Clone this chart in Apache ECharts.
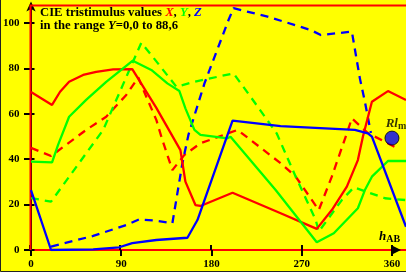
<!DOCTYPE html>
<html><head><meta charset="utf-8">
<script src="https://cdn.jsdelivr.net/npm/echarts@6/dist/echarts.min.js"></script>
<style>html,body{margin:0;padding:0;background:#ffff00}#c{width:406px;height:272px}</style>
</head><body><div id="c"></div>
<script>
// tick labels
const hueTicks = [0, 90, 180, 270, 360];
const valTicks = [0, 20, 40, 60, 80, 100];

// X (red) solid
const xSolidHue = [0, 21, 29, 38, 52, 65, 82, 101, 125, 149, 154, 164, 169, 201, 249, 285, 300, 315, 326, 331, 340, 356, 374];
const xSolidVal = [69.6, 63.9, 69.7, 74.1, 77.1, 78.5, 79.6, 79.7, 62.6, 44, 30.1, 19.8, 19.4, 25.2, 16.2, 9.3, 17.6, 27.9, 39.6, 49.9, 65.3, 70, 66.1];
// X (red) dashed
const xDashHue = [0, 20, 55, 75, 95, 107, 115, 125, 130, 141, 153, 169, 206, 249, 264, 287, 300, 315, 320, 336, 363];
const xDashVal = [45, 41.4, 52.9, 58.7, 68.3, 76, 67.5, 57.3, 49.9, 35.2, 41.9, 47, 52.9, 38.2, 32.3, 17.6, 32.3, 51.4, 58, 51.5, 45.4];

// Y (green) solid
const ySolidHue = [0, 21, 27, 38, 55, 75, 101.5, 120, 136, 148, 154, 163, 169, 196, 199, 244, 285, 302, 326, 333, 340, 356, 374];
const ySolidVal = [38.9, 38.6, 46.3, 58.7, 66.1, 74.1, 83.4, 79.3, 73.4, 70, 62.4, 52.9, 50.7, 49.2, 49.9, 26.4, 3.4, 7.4, 18.4, 26.4, 32.3, 39.2, 39.2];
// Y (green) dashed
const yDashHue = [0, 20, 72, 110, 120, 145, 163, 202, 219, 245, 264, 284, 287, 310, 322, 353, 374];
const yDashVal = [22.9, 21.3, 52.9, 91.3, 85.9, 71.9, 74.1, 77.8, 67.5, 51.4, 32.3, 13.2, 8.1, 22, 27.6, 22.8, 22];

// Z (blue) solid
const zSolidHue = [0, 20, 62, 88, 101, 125, 156, 166, 201, 249, 323, 336, 340, 374];
const zSolidVal = [26.4, 0, 0.3, 1.2, 3, 4.4, 5.4, 13.2, 57, 54.6, 52.9, 51.4, 49.9, 10.2];
// Z (blue) dashed
const zDashHue = [20, 62, 95, 108, 125, 141, 151, 157, 173, 197, 202, 236, 279, 289, 320, 328, 333, 339];
const zDashVal = [1.5, 6.2, 11, 13.5, 12.9, 11.8, 38.2, 50.7, 73.4, 101.3, 106.5, 102.8, 96.9, 94.7, 96.2, 75.6, 65.3, 51.5];

// marked point
const markHue = [360];
const markVal = [49.3];

const zip = (a, b) => a.map((v, i) => [v, b[i]]);
const FONT = '"Liberation Serif", "DejaVu Serif", serif';
const RED = '#ff0000', GREEN = '#00ff00', BLUE = '#0000ff';
const DASH = [8, 6];

function line(name, hue, val, color, dashed) {
  return {
    name, type: 'line', xAxisIndex: 0, yAxisIndex: 0,
    data: zip(hue, val), symbol: 'none', silent: true, animation: false,
    lineStyle: { color, width: 2.3, type: dashed ? DASH : 'solid' }
  };
}

const chart = echarts.init(document.getElementById('c'), null, { renderer: 'canvas' });
const gridPos = { left: 29.5, top: 5.5, right: 0, bottom: 22, containLabel: false };
const TS = 12.7;
chart.setOption({
  backgroundColor: '#ffff00',
  animation: false,
  grid: [Object.assign({}, gridPos), Object.assign({}, gridPos)],
  xAxis: [{
    type: 'value', gridIndex: 0, min: 0, max: 374, position: 'bottom',
    axisLine: { show: true, lineStyle: { color: RED, width: 2 } },
    axisTick: { show: true, customValues: hueTicks, length: 6, lineStyle: { color: '#000', width: 2 } },
    axisLabel: { customValues: hueTicks, color: '#000', fontFamily: FONT, fontWeight: 'bold', fontSize: 11, margin: 9 },
    splitLine: { show: false }
  }, {
    type: 'value', gridIndex: 1, min: 0, max: 374, position: 'bottom',
    axisLine: { show: false },
    axisTick: { show: true, inside: true, customValues: hueTicks, length: 5, lineStyle: { color: '#000', width: 2 } },
    axisLabel: { show: false }, splitLine: { show: false }
  }],
  yAxis: [{
    type: 'value', gridIndex: 0, min: 0, max: 107.7, position: 'left', offset: 1.5,
    axisLine: { show: true, symbol: ['none', 'arrow'], symbolSize: [7, 10], symbolOffset: [0, 4], lineStyle: { color: '#000', width: 2 } },
    axisTick: { show: true, customValues: valTicks, length: 7, lineStyle: { color: '#000', width: 2 } },
    axisLabel: { customValues: valTicks, color: '#000', fontFamily: FONT, fontWeight: 'bold', fontSize: 11, margin: 10 },
    splitLine: { show: false }
  }, {
    type: 'value', gridIndex: 1, min: 0, max: 107.7, position: 'left', offset: 1.5,
    axisLine: { show: false },
    axisTick: { show: true, inside: true, customValues: valTicks, length: 5, lineStyle: { color: '#000', width: 2 } },
    axisLabel: { show: false }, splitLine: { show: false }
  }],
  series: [
    line('X dashed', xDashHue, xDashVal, RED, true),
    line('Y dashed', yDashHue, yDashVal, GREEN, true),
    line('Z dashed', zDashHue, zDashVal, BLUE, true),
    line('X', xSolidHue, xSolidVal, RED, false),
    line('Y', ySolidHue, ySolidVal, GREEN, false),
    line('Z', zSolidHue, zSolidVal, BLUE, false),
    {
      type: 'scatter', xAxisIndex: 0, yAxisIndex: 0, data: zip(markHue, markVal),
      symbolSize: 14, silent: true, z: 5,
      itemStyle: { color: BLUE, borderColor: '#000', borderWidth: 1 },
      label: {
        show: true, position: 'top', offset: [4, 6], formatter: '{a|Rl}{b|m}',
        rich: {
          a: { fontFamily: FONT, fontWeight: 'bold', fontStyle: 'italic', fontSize: 13, color: '#000' },
          b: { fontFamily: FONT, fontWeight: 'bold', fontSize: 10, color: '#000', verticalAlign: 'bottom', padding: [6, 0, 0, 0] }
        }
      }
    }
  ],
  graphic: [
    { type: 'polyline', z: 1, silent: true, shape: { points: [[30.5, 250], [30.5, 5.5], [406, 5.5]] }, style: { stroke: RED, lineWidth: 2, fill: null } },
    { type: 'polygon', z: 10, silent: true, shape: { points: [[392, 245.5], [401, 250], [392, 254.5]] }, style: { fill: '#000' } },
    { type: 'polyline', z: 10, silent: true, shape: { points: [[0.5, 0], [0.5, 271.5], [406, 271.5]] }, style: { stroke: '#222', lineWidth: 1, fill: null } },
    {
      type: 'text', z: 10, silent: true, left: 40, top: 6,
      style: {
        text: '{t|CIE tristimulus values }{x|X}{t|, }{y|Y}{t|, }{z|Z}\n{t|in the range }{i|Y}{t|=0,0 to 88,6}',
        lineHeight: 13,
        rich: {
          t: { fontFamily: FONT, fontWeight: 'bold', fontSize: TS, fill: '#000', lineHeight: 13 },
          i: { fontFamily: FONT, fontWeight: 'bold', fontStyle: 'italic', fontSize: TS, fill: '#000', lineHeight: 13 },
          x: { fontFamily: FONT, fontWeight: 'bold', fontStyle: 'italic', fontSize: TS, fill: RED, lineHeight: 13 },
          y: { fontFamily: FONT, fontWeight: 'bold', fontStyle: 'italic', fontSize: TS, fill: GREEN, lineHeight: 13 },
          z: { fontFamily: FONT, fontWeight: 'bold', fontStyle: 'italic', fontSize: TS, fill: BLUE, lineHeight: 13 }
        }
      }
    },
    {
      type: 'text', z: 10, silent: true, left: 379, top: 230,
      style: {
        text: '{h|h}{s|AB}',
        rich: {
          h: { fontFamily: FONT, fontWeight: 'bold', fontStyle: 'italic', fontSize: 13, fill: '#000' },
          s: { fontFamily: FONT, fontWeight: 'bold', fontSize: 10, fill: '#000', padding: [6, 0, 0, 0] }
        }
      }
    }
  ]
});
</script>
</body></html>
